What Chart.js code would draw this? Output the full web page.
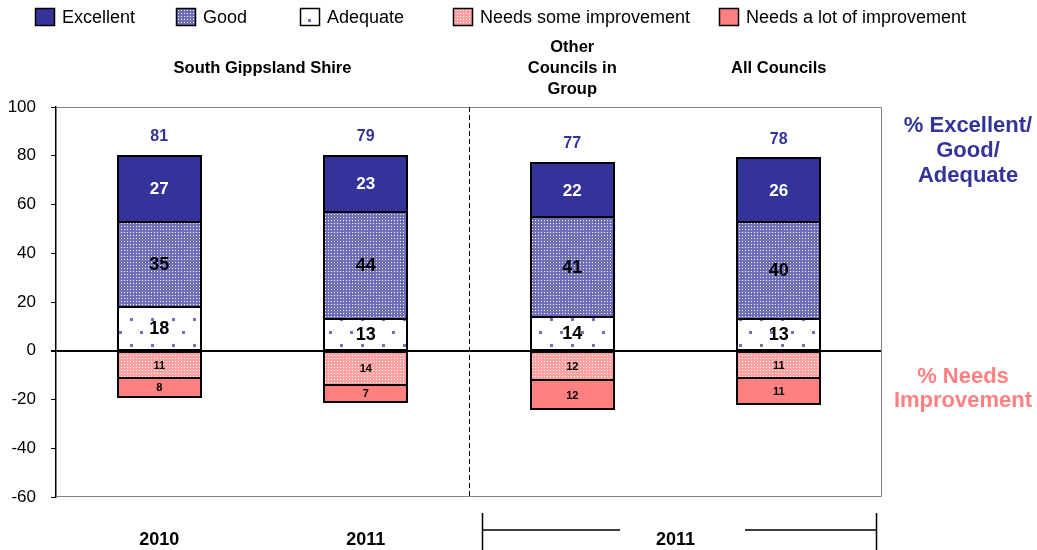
<!DOCTYPE html>
<html>
<head>
<meta charset="utf-8">
<script src="https://cdn.jsdelivr.net/npm/chart.js@4.4.0/dist/chart.umd.min.js"></script>
<style>
  html, body { margin: 0; padding: 0; background: #fff; }
  #wrap { width: 1037px; height: 550px; }
</style>
</head>
<body>
<div id="wrap"><canvas id="ratingChart" width="1037" height="550"></canvas></div>
<script>
var categories = ['South Gippsland 2010', 'South Gippsland 2011', 'Other Councils in Group 2011', 'All Councils 2011'];
var excellent = [27, 23, 22, 26];
var good = [35, 44, 41, 40];
var adequate = [18, 13, 14, 13];
var needsSome = [-11, -14, -12, -11];
var needsLot = [-8, -7, -12, -11];
var totals = [81, 79, 77, 78];
var yTicks = [100, 80, 60, 40, 20, 0, -20, -40, -60];
var groupHeaders = [['South Gippsland Shire'], ['Other', 'Councils in', 'Group'], ['All Councils']];
var yearLabels = ['2010', '2011', '2011'];
var legendLabels = ['Excellent', 'Good', 'Adequate', 'Needs some improvement', 'Needs a lot of improvement'];

var FONT = 'Liberation Sans, Arial, sans-serif';
var BLUE = '#333399';
var RED = '#ff8080';

// small tiled fills to mimic the Excel patterns
function makePattern(w, h, bg, dots, dotColor, dotSize) {
  var c = document.createElement('canvas');
  c.width = w; c.height = h;
  var g = c.getContext('2d');
  g.fillStyle = bg;
  g.fillRect(0, 0, w, h);
  g.fillStyle = dotColor;
  dots.forEach(function(d) { g.fillRect(d[0], d[1], dotSize, dotSize); });
  return document.getElementById('ratingChart').getContext('2d').createPattern(c, 'repeat');
}

var goodFill = makePattern(3, 3, '#6e6eba', [[1, 1]], '#ffffff', 1);
var adequateFill = makePattern(21, 26, '#ffffff', [[4, 6], [14, 19]], '#7272c0', 3);
var someFill = makePattern(3, 3, '#ffa0a0', [[1, 1]], '#ffffff', 1);

function ds(label, data, fill) {
  return {
    label: label,
    data: data,
    backgroundColor: fill,
    borderWidth: 0,
    inflateAmount: 0,
    barPercentage: 0.402,
    categoryPercentage: 1
  };
}

// stacking order: positive from zero upwards, then negative from zero downwards
var datasets = [
  ds('Adequate', adequate, adequateFill),
  ds('Good', good, goodFill),
  ds('Excellent', excellent, BLUE),
  ds('Needs some improvement', needsSome, someFill),
  ds('Needs a lot of improvement', needsLot, RED)
];

var legendFills = {
  'Excellent': BLUE,
  'Good': goodFill,
  'Adequate': adequateFill,
  'Needs some improvement': someFill,
  'Needs a lot of improvement': RED
};

var decorPlugin = {
  id: 'decor',
  beforeDatasetsDraw: function(chart) {
    var ctx = chart.ctx, a = chart.chartArea, x = chart.scales.x;
    ctx.save();
    // grey frame around plot
    ctx.strokeStyle = '#808080';
    ctx.lineWidth = 1;
    ctx.beginPath();
    ctx.moveTo(a.left, a.top + 0.5);
    ctx.lineTo(a.right - 0.5, a.top + 0.5);
    ctx.lineTo(a.right - 0.5, a.bottom - 0.5);
    ctx.lineTo(a.left, a.bottom - 0.5);
    ctx.stroke();
    // dashed separator between shire and comparison groups
    var sx = Math.round((x.getPixelForValue(1) + x.getPixelForValue(2)) / 2) + 0.5;
    ctx.strokeStyle = '#000';
    ctx.setLineDash([5, 3]);
    ctx.beginPath();
    ctx.moveTo(sx, a.top);
    ctx.lineTo(sx, a.bottom);
    ctx.stroke();
    ctx.restore();
  },
  afterDatasetsDraw: function(chart) {
    // black outline on every segment, shared edges overlap
    var ctx = chart.ctx;
    ctx.save();
    ctx.strokeStyle = '#000';
    ctx.lineWidth = 2;
    chart.data.datasets.forEach(function(d, di) {
      chart.getDatasetMeta(di).data.forEach(function(el) {
        var l = Math.round(el.x - el.width / 2), r = Math.round(el.x + el.width / 2);
        var t = Math.round(Math.min(el.y, el.base)), b = Math.round(Math.max(el.y, el.base));
        ctx.strokeRect(l, t, r - l, b - t);
      });
    });
    ctx.restore();
  },
  afterDraw: function(chart) {
    var ctx = chart.ctx, x = chart.scales.x;
    ctx.save();
    ctx.textAlign = 'center';
    ctx.textBaseline = 'middle';

    // values inside the segments
    chart.data.datasets.forEach(function(d, di) {
      var meta = chart.getDatasetMeta(di);
      meta.data.forEach(function(el, i) {
        var v = d.data[i];
        var cy = (el.y + el.base) / 2;
        if (d.label === 'Excellent') {
          ctx.fillStyle = '#fff';
          ctx.font = 'bold 17px ' + FONT;
        } else if (v < 0) {
          ctx.fillStyle = '#000';
          ctx.font = 'bold 11px ' + FONT;
        } else {
          ctx.fillStyle = '#000';
          ctx.font = 'bold 18px ' + FONT;
        }
        ctx.fillText(String(Math.abs(v)), el.x, cy + 1);
      });
    });

    // totals above bars
    var top = chart.getDatasetMeta(2);
    ctx.fillStyle = BLUE;
    ctx.font = 'bold 16px ' + FONT;
    top.data.forEach(function(el, i) {
      ctx.fillText(String(totals[i]), el.x, el.y - 19);
    });

    // group headers
    ctx.fillStyle = '#000';
    ctx.font = 'bold 16.5px ' + FONT;
    var hx = [(x.getPixelForValue(0) + x.getPixelForValue(1)) / 2, x.getPixelForValue(2), x.getPixelForValue(3)];
    groupHeaders.forEach(function(lines, i) {
      var y0 = 68 - (lines.length - 1) * 10.5;
      lines.forEach(function(t, j) { ctx.fillText(t, hx[i], y0 + j * 21); });
    });

    // year labels and bracket
    ctx.font = 'bold 18px ' + FONT;
    var yx = [x.getPixelForValue(0), x.getPixelForValue(1), (x.getPixelForValue(2) + x.getPixelForValue(3)) / 2];
    yearLabels.forEach(function(t, i) { ctx.fillText(t, yx[i], 540); });
    var bl = 482.5, br = 876.5;
    ctx.strokeStyle = '#000';
    ctx.lineWidth = 1.5;
    ctx.beginPath();
    ctx.moveTo(bl, 513); ctx.lineTo(bl, 550);
    ctx.moveTo(br, 513); ctx.lineTo(br, 550);
    ctx.moveTo(bl, 530); ctx.lineTo(620, 530);
    ctx.moveTo(745, 530); ctx.lineTo(br, 530);
    ctx.stroke();

    // side captions
    ctx.font = 'bold 22px ' + FONT;
    ctx.fillStyle = BLUE;
    ['% Excellent/', 'Good/', 'Adequate'].forEach(function(t, j) { ctx.fillText(t, 968, 126 + j * 25); });
    ctx.fillStyle = RED;
    ['% Needs', 'Improvement'].forEach(function(t, j) { ctx.fillText(t, 963, 377 + j * 24); });

    // legend
    var lx = [35, 176, 300, 453, 719];
    ctx.textAlign = 'left';
    ctx.font = '18px ' + FONT;
    ctx.lineWidth = 1.5;
    legendLabels.forEach(function(t, i) {
      ctx.fillStyle = legendFills[t];
      ctx.fillRect(lx[i], 8, 20, 18);
      ctx.strokeStyle = '#000';
      ctx.strokeRect(lx[i] + 0.5, 8.5, 19, 17);
      ctx.fillStyle = '#000';
      ctx.fillText(t, lx[i] + 27, 18);
    });
    ctx.restore();
  }
};

var ctx = document.getElementById('ratingChart').getContext('2d');
var ratingChart = new Chart(ctx, {
  type: 'bar',
  data: {
    labels: categories,
    datasets: datasets
  },
  options: {
    responsive: false,
    animation: false,
    layout: { padding: { left: 0, top: 107, right: 155, bottom: 53 } },
    plugins: {
      legend: { display: false },
      tooltip: { enabled: false }
    },
    scales: {
      x: {
        stacked: true,
        display: false
      },
      y: {
        stacked: true,
        min: -60,
        max: 100,
        afterBuildTicks: function(s) { s.ticks = yTicks.map(function(v) { return { value: v }; }); },
        afterFit: function(s) { s.width = 56; },
        border: { color: '#000', width: 1.5 },
        grid: {
          drawOnChartArea: true,
          color: function(c) { return c.tick && c.tick.value === 0 ? '#000' : 'rgba(0,0,0,0)'; },
          lineWidth: function(c) { return c.tick && c.tick.value === 0 ? 2 : 1; },
          tickColor: '#000',
          tickLength: 5
        },
        ticks: {
          color: '#000',
          padding: 15,
          font: { family: FONT, size: 17 }
        }
      }
    }
  },
  plugins: [decorPlugin]
});
</script>
</body>
</html>
